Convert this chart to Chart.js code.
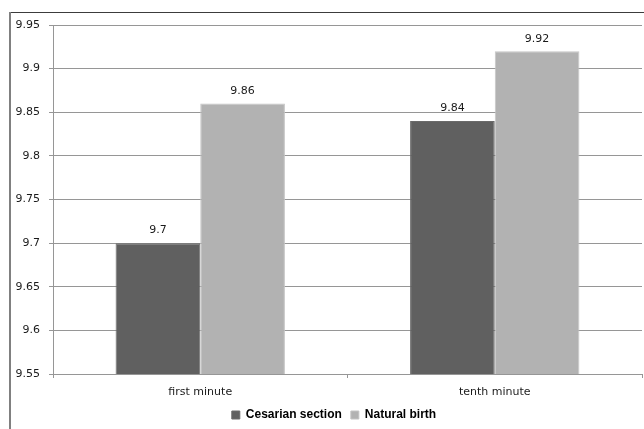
<!DOCTYPE html>
<html>
<head>
<meta charset="utf-8">
<script src="https://cdn.jsdelivr.net/npm/chart.js@4/dist/chart.umd.min.js"></script>
<style>
  html, body { margin: 0; padding: 0; background: #ffffff; }
  #wrap { width: 644px; height: 429px; }
</style>
</head>
<body>
<div id="wrap"><canvas id="chart" width="644" height="429"></canvas></div>
<script>
// Apgar-style scores by delivery type
const categories = ['first minute', 'tenth minute'];
const cesarianSection = [9.7, 9.84];
const naturalBirth = [9.86, 9.92];
const seriesNames = ['Cesarian section', 'Natural birth'];
const yMin = 9.55, yMax = 9.95, yStep = 0.05;

const tickFont = { family: 'DejaVu Sans', size: 11 };
const gridGray = '#969696';
const textColor = '#1a1a1a';

// White page with the outer frame lines (top and left edges)
const framePlugin = {
  id: 'frame',
  beforeDraw(chart) {
    const ctx = chart.ctx;
    ctx.save();
    ctx.fillStyle = '#ffffff';
    ctx.fillRect(0, 0, chart.width, chart.height);
    ctx.strokeStyle = '#3c3c3c';
    ctx.lineWidth = 1;
    ctx.beginPath();
    ctx.moveTo(10, 12.5);
    ctx.lineTo(chart.width, 12.5);
    ctx.stroke();
    ctx.strokeStyle = '#808080';
    ctx.lineWidth = 2;
    ctx.beginPath();
    ctx.moveTo(10, 12);
    ctx.lineTo(10, chart.height);
    ctx.stroke();
    ctx.restore();
  }
};

// Nudge the legend block so it sits centred under the whole frame
const legendShift = {
  id: 'legendShift',
  afterLayout(chart, args, opts) {
    const lg = chart.legend;
    if (!lg) return;
    lg.left += opts.dx;
    lg.right += opts.dx;
  }
};

// Value labels above each bar
const valueLabels = {
  id: 'valueLabels',
  afterDatasetsDraw(chart) {
    const ctx = chart.ctx;
    ctx.save();
    ctx.font = '11px "DejaVu Sans"';
    ctx.fillStyle = textColor;
    ctx.textAlign = 'center';
    ctx.textBaseline = 'middle';
    chart.data.datasets.forEach((ds, di) => {
      chart.getDatasetMeta(di).data.forEach((bar, i) => {
        ctx.fillText(String(ds.data[i]), bar.x, bar.y - 12.5);
      });
    });
    ctx.restore();
  }
};

new Chart(document.getElementById('chart'), {
  type: 'bar',
  data: {
    labels: categories,
    datasets: [
      {
        label: seriesNames[0],
        data: cesarianSection,
        backgroundColor: '#606060',
        borderColor: '#6a6a6a',
        borderWidth: 1,
        categoryPercentage: 0.575,
        barPercentage: 1
      },
      {
        label: seriesNames[1],
        data: naturalBirth,
        backgroundColor: '#b2b2b2',
        borderColor: '#c4c4c4',
        borderWidth: 1,
        categoryPercentage: 0.575,
        barPercentage: 1
      }
    ]
  },
  options: {
    responsive: false,
    animation: false,
    devicePixelRatio: 1,
    layout: { padding: { top: 25, right: 2, left: 0, bottom: -2 } },
    plugins: {
      tooltip: { enabled: false },
      legendShift: { dx: 13 },
      legend: {
        position: 'bottom',
        labels: {
          font: { family: 'Liberation Sans', size: 12, weight: 'bold' },
          color: '#000000',
          boxWidth: 8,
          boxHeight: 8,
          padding: 9
        }
      }
    },
    scales: {
      x: {
        grid: {
          drawOnChartArea: false,
          drawTicks: true,
          tickLength: 4,
          color: gridGray,
          offset: true
        },
        border: { color: gridGray, width: 1 },
        ticks: { font: tickFont, color: textColor, padding: 8 },
        afterFit(scale) { scale.height = 26; }
      },
      y: {
        min: yMin,
        max: yMax,
        grid: { color: gridGray, tickLength: 4 },
        border: { color: gridGray, width: 1 },
        ticks: {
          stepSize: yStep,
          font: tickFont,
          color: textColor,
          padding: 9,
          crossAlign: 'near',
          callback: (v) => String(Number(v.toFixed(2)))
        },
        afterFit(scale) { scale.width = 53; }
      }
    }
  },
  plugins: [framePlugin, legendShift, valueLabels]
});
</script>
</body>
</html>
